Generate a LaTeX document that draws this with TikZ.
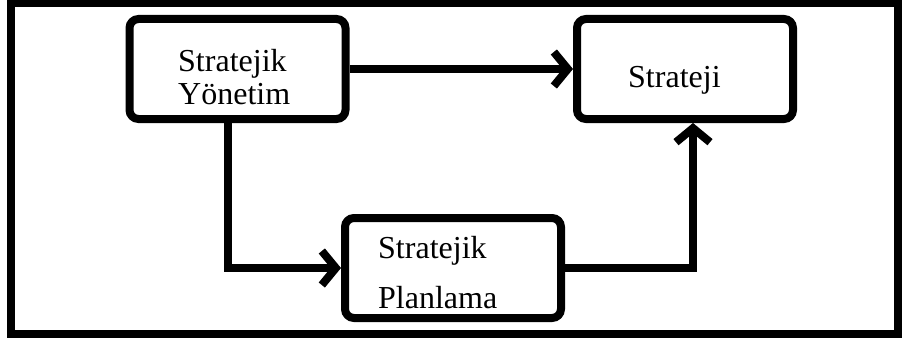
\documentclass[tikz,border=0pt]{standalone}
\usepackage{fontspec}
\setmainfont{Liberation Serif}
\usetikzlibrary{arrows.meta}

\tikzset{
  box/.style={draw, line width=8pt, rounded corners=9pt, inner sep=0pt,
              minimum width=216pt, minimum height=100pt},
  lbl/.style={anchor=base west, inner sep=0pt, font=\fontsize{32}{32}\selectfont},
  link/.style={line width=8pt},
  arr/.style={link, -{Straight Barb[length=14pt, width=34pt, sharp]}},
}

\begin{document}
\begin{tikzpicture}[x=1pt, y=-1pt]
  \useasboundingbox (0,0) rectangle (903,345);

  % outer frame
  \draw[line width=8pt] (11,3) rectangle (898,334);

  % boxes
  \node[box] (sy) at (237.5,69) {};
  \node[box] (st) at (685,69) {};
  \node[box] (sp) at (453,268) {};

  % box texts
  \node[lbl] (sy1) at (178,72) {Stratejik};
  \node[lbl] (sy2) at (178,104) {Yönetim};
  \node[lbl] (st1) at (628,88) {Strateji};
  \node[lbl] (sp1) at (378,258) {Stratejik};
  \node[lbl] (sp2) at (378,308) {Planlama};

  % bend points of the connectors
  \coordinate (kl) at (227.5,268);
  \coordinate (kr) at (693,268);

  % connectors
  \draw[arr] (sy.east) -- (st.west);
  \draw[arr] (sy.south -| kl) |- (sp.west);
  \draw[arr] (sp.east) -| (st.south -| kr);
\end{tikzpicture}
\end{document}
